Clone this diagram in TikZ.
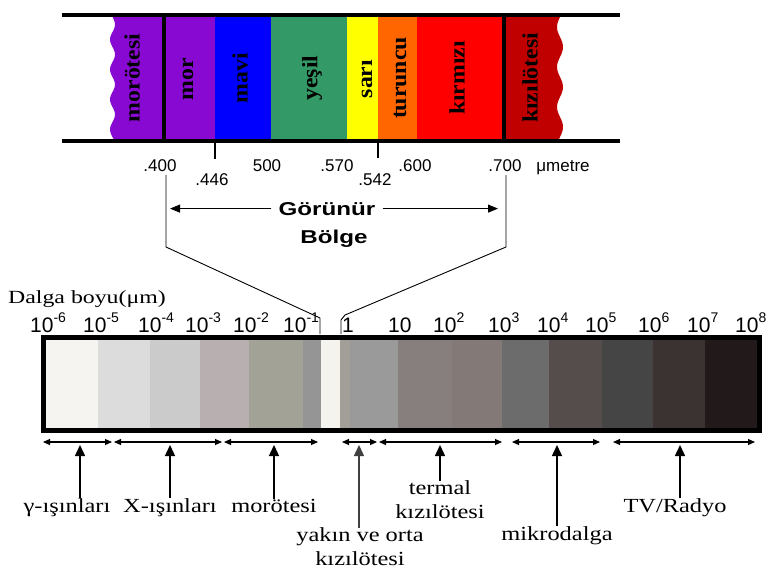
\documentclass[tikz,border=0pt]{standalone}
\usepackage{fontspec}
\setmainfont{Liberation Serif}
\setsansfont{Liberation Sans}
\newfontfamily\serifw[FakeStretch=1.22]{Liberation Serif}
\newfontfamily\serifd[FakeStretch=1.28]{Liberation Serif}
\newfontfamily\serifbw[FakeStretch=1.08]{Liberation Serif}
\usetikzlibrary{arrows.meta}
\definecolor{uvc}{RGB}{136,10,210}
\definecolor{bluec}{RGB}{0,0,255}
\definecolor{greenc}{RGB}{51,153,102}
\definecolor{yellowc}{RGB}{255,255,0}
\definecolor{orangec}{RGB}{255,102,0}
\definecolor{redc}{RGB}{255,0,0}
\definecolor{irc}{RGB}{192,0,0}
\newcommand\tenp[1]{10\raisebox{10pt}{\fontsize{14}{14}\selectfont #1}}
\begin{document}
\begin{tikzpicture}[x=1pt,y=-1pt,
  bandlbl/.style={rotate=90, font=\serifbw\bfseries\fontsize{22}{24}\selectfont, inner sep=0},
  num/.style={font=\sffamily\fontsize{17}{20}\selectfont, anchor=base, inner sep=0},
  pow/.style={font=\sffamily\fontsize{21}{24}\selectfont, anchor=base west, inner sep=0},
  lab/.style={font=\serifw\fontsize{20}{24}\selectfont, align=center, inner sep=0},
  vislbl/.style={font=\sffamily\bfseries\fontsize{18.6}{22}\selectfont, anchor=base, inner sep=0},
  dbl/.style={{Triangle[length=7pt,width=6pt]}-{Triangle[length=7pt,width=6pt]}, line width=1.1pt},
  uparr/.style={-{Triangle[length=11pt,width=10pt]}, line width=1.5pt},
  visarr/.style={-{Triangle[length=10pt,width=8pt]}, line width=1pt},
  thin/.style={line width=0.9pt}]
\useasboundingbox (0,0) rectangle (778,574);
% ---------- visible spectrum strip ----------
\fill[uvc] (164,17) -- (114,17) -- plot[domain=17:139,samples=60,smooth] ({112.5+2.5*sin((\x-17)*12)},\x) -- (164,139) -- cycle;
\fill[uvc] (164,17) rectangle (215,139);
\fill[bluec] (215,17) rectangle (271,139);
\fill[greenc] (271,17) rectangle (347,139);
\fill[yellowc] (347,17) rectangle (378,139);
\fill[orangec] (378,17) rectangle (417,139);
\fill[redc] (417,17) rectangle (504,139);
\fill[irc] (504,17) -- (560,17) -- plot[domain=17:139,samples=60,smooth] ({560-3*sin((\x-17)*9)},\x) -- (504,139) -- cycle;
\draw[line width=4pt] (62,15) -- (620,15);
\draw[line width=4pt] (62,141) -- (620,141);
\draw[line width=4pt] (164,15) -- (164,141);
\draw[line width=4pt] (504,15) -- (504,141);
\node[bandlbl] (b1) at (132,78) {morötesi};
\node[bandlbl] (b2) at (188,79) {mor};
\node[bandlbl] (b3) at (240,78) {mavi};
\node[bandlbl] (b4) at (312,78) {yeşil};
\node[bandlbl] (b5) at (367,79) {sarı};
\node[bandlbl] (b6) at (400,78) {turuncu};
\node[bandlbl] (b7) at (457,78) {kırmızı};
\node[bandlbl] (b8) at (530,78) {kızılötesi};
% ticks
\draw[line width=2pt] (215,143) -- (215,159);
\draw[line width=2pt] (378,143) -- (378,158);
% wavelength labels
\node[num] (w400) at (160,171) {.400};
\node[num] (w446) at (212,185) {.446};
\node[num] (w500) at (267,171) {500};
\node[num] (w570) at (337,171) {.570};
\node[num] (w542) at (375,185) {.542};
\node[num] (w600) at (415,171) {.600};
\node[num] (w700) at (505,171) {.700};
\node[num] (wun) at (563,171) {μmetre};
% visible region label
\node[vislbl] (gor) at (327,215) {\scalebox{1.3}[1]{Görünür}};
\node[vislbl] (bol) at (334,243) {\scalebox{1.3}[1]{Bölge}};
\coordinate (gl) at (170,210);
\coordinate (gr) at (498,210);
\draw[visarr] ([xshift=-7pt]gor.west) -- (gl |- gor.west);
\draw[visarr] ([xshift=7pt]gor.east) -- (gr |- gor.east);
% funnel lines
\coordinate (fl0) at (166,175);
\coordinate (fl1) at (166,247);
\coordinate (fl2) at (320,318);
\coordinate (fl3) at (320,334);
\coordinate (fr0) at (506,175);
\coordinate (fr1) at (506,247);
\coordinate (fr2) at (345,315);
\coordinate (fr3) at (341,320);
\coordinate (fr4) at (341,334);
\draw[thin] (fl0) -- (fl1) -- (fl2) -- (fl3);
\draw[thin] (fr0) -- (fr1) -- (fr2) -- (fr3) -- (fr4);
% ---------- full spectrum bar ----------
\node[font=\serifd\fontsize{18.6}{22}\selectfont, anchor=base west, inner sep=0] (dal) at (8,303) {Dalga boyu(μm)};
\node[pow] (p1) at (30,332) {\tenp{-6}};
\node[pow] (p2) at (83,332) {\tenp{-5}};
\node[pow] (p3) at (138,332) {\tenp{-4}};
\node[pow] (p4) at (185,332) {\tenp{-3}};
\node[pow] (p5) at (233,332) {\tenp{-2}};
\node[pow] (p6) at (283,332) {\tenp{-1}};
\node[pow] (p7) at (342,332) {1};
\node[pow] (p8) at (388,332) {10};
\node[pow] (p9) at (433,332) {\tenp{2}};
\node[pow] (p10) at (488,332) {\tenp{3}};
\node[pow] (p11) at (537,332) {\tenp{4}};
\node[pow] (p12) at (585,332) {\tenp{5}};
\node[pow] (p13) at (638,332) {\tenp{6}};
\node[pow] (p14) at (687,332) {\tenp{7}};
\node[pow] (p15) at (735,332) {\tenp{8}};
\foreach \a/\b/\c in {45/98/F5F4F0, 98/150/DCDCDC, 150/200/CBCBCB, 200/249/B8B0B0,
  249/303/A3A296, 303/321/959595, 321/340/F5F3EE, 340/350/A19F98, 350/398/9A9A9A,
  398/452/877E7E, 452/502/837A78, 502/549/6C6C6C, 549/602/554C4C, 602/653/454545,
  653/705/3B3232, 705/757/221A1A}{
  \definecolor{segc}{HTML}{\c}
  \fill[segc] (\a,337) rectangle (\b,431);
}
\draw[line width=5pt] (43.5,337) rectangle (759.5,430.5);
% range arrows
\coordinate (r1a) at (43,442);  \coordinate (r1b) at (112,442);
\coordinate (r2a) at (114,442); \coordinate (r2b) at (222,442);
\coordinate (r3a) at (224,442); \coordinate (r3b) at (318,442);
\coordinate (r4a) at (342,442); \coordinate (r4b) at (377,442);
\coordinate (r5a) at (379,442); \coordinate (r5b) at (502,442);
\coordinate (r6a) at (512,442); \coordinate (r6b) at (600,442);
\coordinate (r7a) at (613,442); \coordinate (r7b) at (755,442);
\draw[dbl] (r1a) -- (r1b);
\draw[dbl] (r2a) -- (r2b);
\draw[dbl] (r3a) -- (r3b);
\draw[dbl] (r4a) -- (r4b);
\draw[dbl] (r5a) -- (r5b);
\draw[dbl] (r6a) -- (r6b);
\draw[dbl] (r7a) -- (r7b);
% region labels
\node[lab, anchor=base] (lg) at (67,512) {γ-ışınları};
\node[lab, anchor=base] (lx) at (170,512) {X-ışınları};
\node[lab, anchor=base] (lu) at (274,512) {morötesi};
\node[lab] (ly) at (360,547) {yakın ve orta\\kızılötesi};
\node[lab] (lt) at (440,500) {termal\\kızılötesi};
\node[lab, anchor=base] (lm) at (557,540) {mikrodalga};
\node[lab, anchor=base] (lr) at (675,512) {TV/Radyo};
\coordinate (tg) at (80,445);
\coordinate (tx) at (170,445);
\coordinate (tu) at (274,445);
\coordinate (ty) at (359,445);
\coordinate (tt) at (440,445);
\coordinate (tm) at (557,445);
\coordinate (tr) at (680,445);
\draw[uparr] (tg |- lg.north) -- (tg);
\draw[uparr] (tx |- lx.north) -- (tx);
\draw[uparr] (tu |- lu.north) -- (tu);
\draw[uparr, black!75] (ty |- ly.north) -- (ty);
\draw[uparr] (tt |- lt.north) -- (tt);
\draw[uparr] (tm |- lm.north) -- (tm);
\draw[uparr] (tr |- lr.north) -- (tr);
\end{tikzpicture}
\end{document}
